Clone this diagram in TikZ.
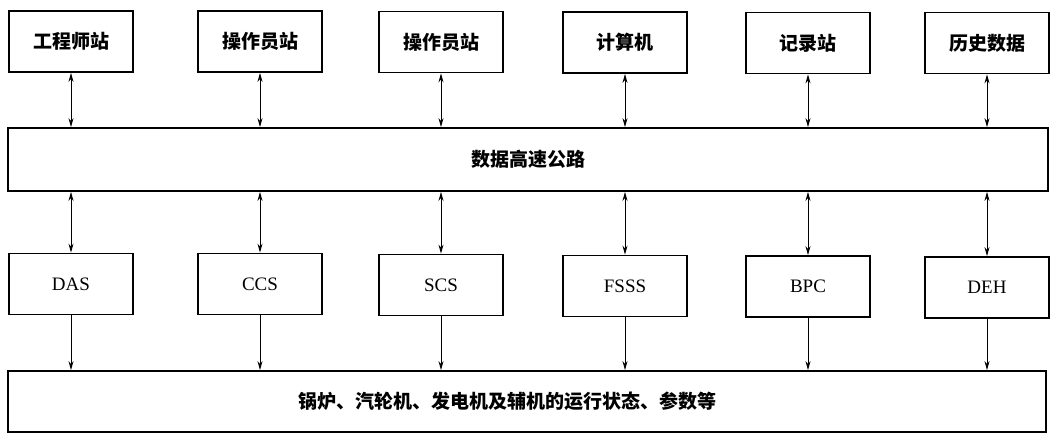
\documentclass[tikz,border=0pt]{standalone}
\usepackage{fontspec}
\setmainfont{Liberation Serif}
\newfontfamily\cjk{Noto Sans CJK SC}
\usetikzlibrary{arrows.meta}
\tikzset{
  box/.style={draw, line width=1.8pt, minimum width=124pt, minimum height=61pt, inner sep=0pt, font=\fontsize{19}{21}\selectfont},
  cbox/.style={box, font=\cjk\bfseries\fontsize{19}{21}\selectfont},
  wide/.style={draw, line width=1.8pt, inner sep=0pt, font=\cjk\bfseries\fontsize{19}{21}\selectfont},
  link/.style={line width=0.9pt, {Stealth[length=9pt,width=5pt]}-{Stealth[length=9pt,width=5pt]}},
  down/.style={line width=0.9pt, -{Stealth[length=9pt,width=5pt]}}
}
\begin{document}
\begin{tikzpicture}[x=1pt,y=-1pt]
\useasboundingbox (0,0) rectangle (1050,437);
% top row
\node[cbox] (t1) at (71,41.5) {工程师站};
\node[cbox] (t2) at (260,41.5) {操作员站};
\node[cbox] (t3) at (441,42) {操作员站};
\node[cbox] (t4) at (625,42.5) {计算机};
\node[cbox] (t5) at (808,43) {记录站};
\node[cbox] (t6) at (987,43) {历史数据};
% bus
\node[wide, minimum width=1040pt, minimum height=63pt] (bus) at (528,159.5) {数据高速公路};
% lower row
\node[box] (b1) at (71,284) {DAS};
\node[box] (b2) at (260,284) {CCS};
\node[box] (b3) at (441,285) {SCS};
\node[box] (b4) at (625,286) {FSSS};
\node[box] (b5) at (808,286.5) {BPC};
\node[box] (b6) at (987,287.5) {DEH};
% bottom
\node[wide, minimum width=1038pt, minimum height=61pt,
  label={[font=\cjk\bfseries\fontsize{19}{21}\selectfont, xshift=-20pt]center:锅炉、汽轮机、发电机及辅机的运行状态、参数等}] (plant) at (527,401.5) {};
% connectors
\foreach \i in {1,...,6}{
  \draw[link] (t\i.south) -- (t\i.south |- bus.north);
  \draw[link] (b\i.north |- bus.south) -- (b\i.north);
  \draw[down] (b\i.south) -- (b\i.south |- plant.north);
}
\end{tikzpicture}
\end{document}
